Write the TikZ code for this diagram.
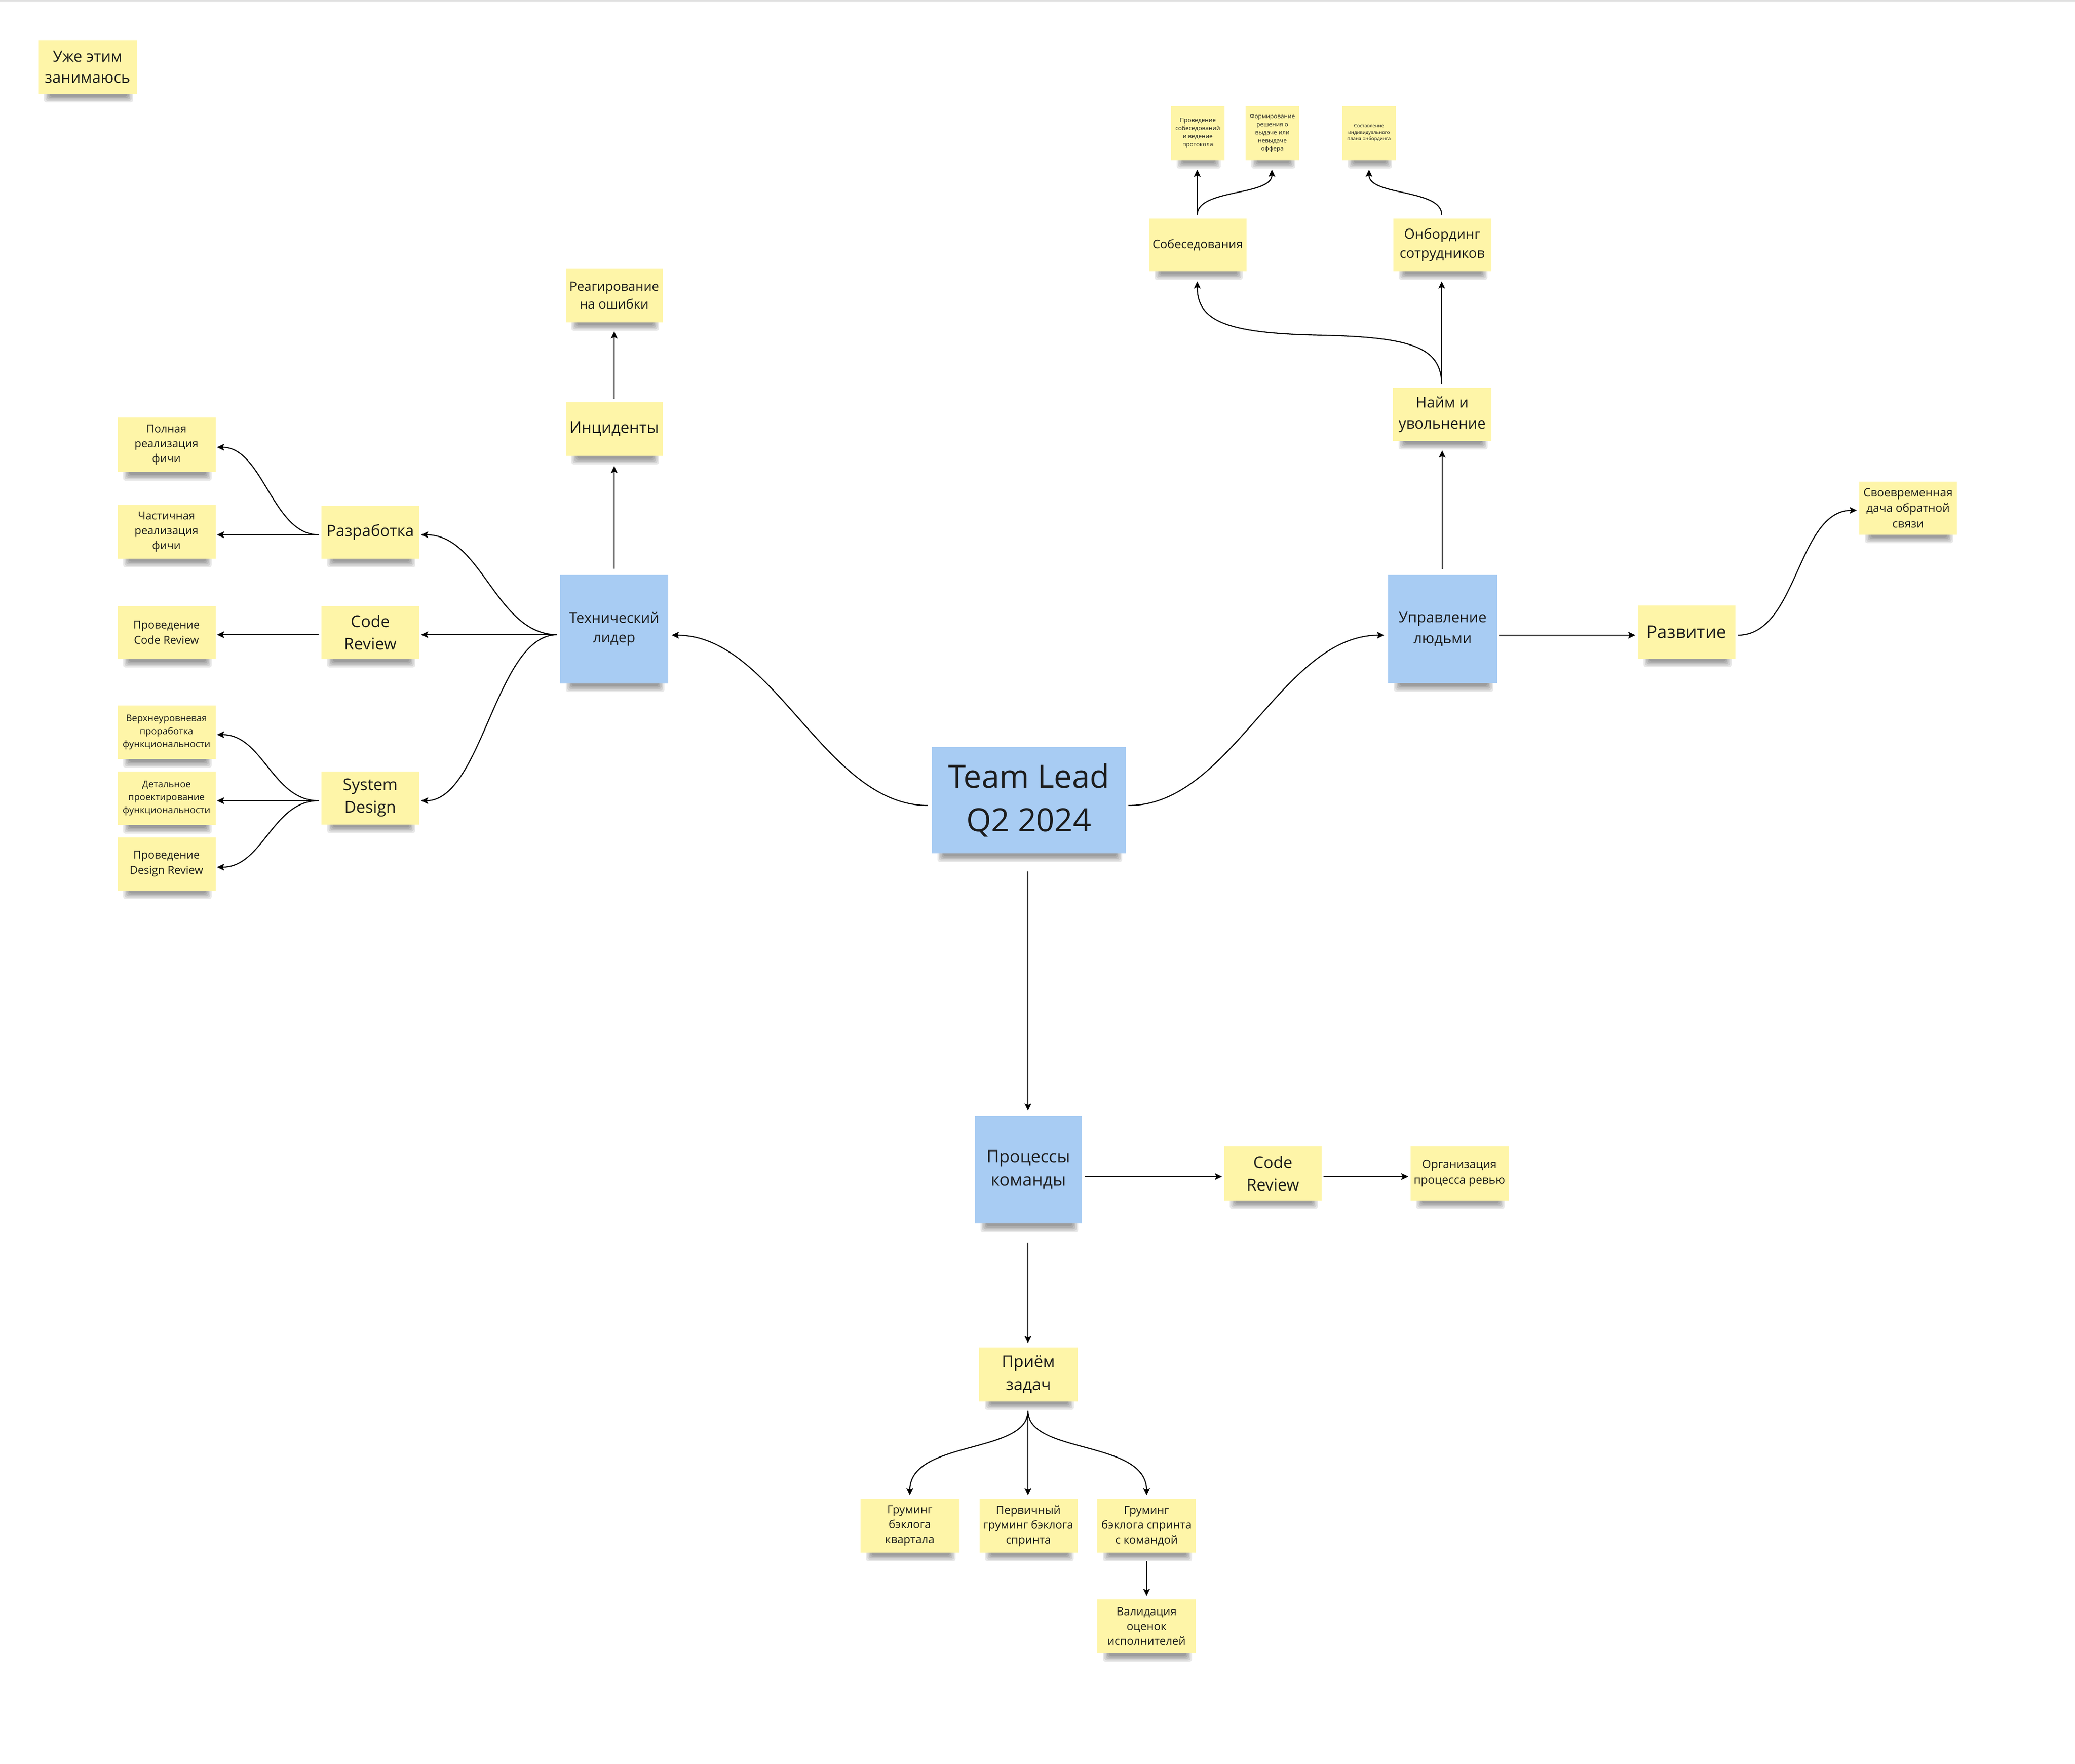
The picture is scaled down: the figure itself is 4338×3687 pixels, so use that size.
\documentclass[tikz,border=0pt]{standalone}
\usepackage{fontspec}
\setmainfont{Open Sans}
\usetikzlibrary{arrows.meta,calc}
\definecolor{ny}{HTML}{FEF5A8}
\definecolor{nb}{HTML}{A8CCF3}
\definecolor{tx}{HTML}{1C1C1C}
\pgfdeclarelayer{bg}
\pgfsetlayers{bg,main}
\newcommand\fsz[2]{\fontsize{#1}{#2}\selectfont}
\newcommand\nshadow[1]{%
  \foreach \i in {0,...,4}{%
    \fill[black,opacity=0.09,rounded corners=5pt]
      ($(#1.south west)+(12+3*\i,-4)$) rectangle ($(#1.south east)+(-8-3*\i,18-3*\i)$);}}
\begin{document}
\begin{tikzpicture}[x=1pt,y=-1pt,
  yel/.style={fill=ny, inner sep=0pt, align=center, text=tx},
  blu/.style={fill=nb, inner sep=0pt, align=center, text=tx},
  edge/.style={draw=black, line width=2.2pt, -{Stealth[length=15pt,width=14pt,inset=3pt]}}]
\useasboundingbox (0,0) rectangle (4338,3687);

% ---------- nodes ----------
\node[yel, minimum width=206, minimum height=112, font=\fsz{32.5}{44}] (Note) at (183,140) {Уже этим\\занимаюсь};

\node[blu, minimum width=406, minimum height=222, font=\fsz{67}{91}] (TL) at (2151,1673) {Team Lead\\Q2 2024};
\node[blu, minimum width=226, minimum height=227, font=\fsz{30}{41}] (TLd) at (1284,1315) {Технический\\лидер};
\node[blu, minimum width=228, minimum height=226, font=\fsz{31}{44}] (PM) at (3016,1315) {Управление\\людьми};
\node[blu, minimum width=224, minimum height=225, font=\fsz{36}{49}] (PR) at (2150,2445) {Процессы\\команды};

\node[yel, minimum width=203, minimum height=112, font=\fsz{33}{44}] (Inc) at (1284,897) {Инциденты};
\node[yel, minimum width=203, minimum height=113, font=\fsz{27}{37}] (React) at (1284,617) {Реагирование\\на ошибки};

\node[yel, minimum width=204, minimum height=110, font=\fsz{33}{44}] (Dev) at (774,1113) {Разработка};
\node[yel, minimum width=204, minimum height=111, font=\fsz{34}{47}] (CRl) at (774,1322) {Code\\Review};
\node[yel, minimum width=204, minimum height=111, font=\fsz{34}{47}] (SD) at (774,1668) {System\\Design};

\node[yel, minimum width=205, minimum height=114, font=\fsz{23}{31}] (Full) at (348,930) {Полная\\реализация\\фичи};
\node[yel, minimum width=205, minimum height=112, font=\fsz{23}{31}] (Part) at (348,1112) {Частичная\\реализация\\фичи};
\node[yel, minimum width=205, minimum height=111, font=\fsz{23}{32}] (PCR) at (348,1322) {Проведение\\Code Review};
\node[yel, minimum width=205, minimum height=112, font=\fsz{19.5}{27}] (HL) at (348,1531) {Верхнеуровневая\\проработка\\функциональности};
\node[yel, minimum width=205, minimum height=112, font=\fsz{19.5}{27}] (Det) at (348,1669) {Детальное\\проектирование\\функциональности};
\node[yel, minimum width=205, minimum height=111, font=\fsz{23}{32}] (PDR) at (348,1806) {Проведение\\Design Review};

\node[yel, minimum width=206, minimum height=111, font=\fsz{31}{44}] (Hire) at (3015,866) {Найм и\\увольнение};
\node[yel, minimum width=204, minimum height=110, font=\fsz{25}{34}] (Interv) at (2504,512) {Собеседования};
\node[yel, minimum width=205, minimum height=110, font=\fsz{29}{40}] (Onb) at (3015,512) {Онбординг\\сотрудников};
\node[yel, minimum width=112, minimum height=113, font=\fsz{12.5}{17}] (Int1) at (2504,278) {Проведение\\собеседований\\и ведение\\протокола};
\node[yel, minimum width=112, minimum height=113, font=\fsz{12.5}{17}] (Int2) at (2660,278) {Формирование\\решения о\\выдаче или\\невыдаче\\оффера};
\node[yel, minimum width=112, minimum height=113, font=\fsz{10}{13.5}] (Onb1) at (2862,278) {Составление\\индивидуального\\плана онбординга};

\node[yel, minimum width=204, minimum height=111, font=\fsz{37}{48}] (Dev2) at (3526,1321) {Развитие};
\node[yel, minimum width=204, minimum height=111, font=\fsz{24}{32.5}] (Feed) at (3989,1062) {Своевременная\\дача обратной\\связи};

\node[yel, minimum width=204, minimum height=113, font=\fsz{34}{47.5}] (CRr) at (2661,2453) {Code\\Review};
\node[yel, minimum width=205, minimum height=113, font=\fsz{24}{32.5}] (Org) at (3051,2453) {Организация\\процесса ревью};
\node[yel, minimum width=206, minimum height=113, font=\fsz{34}{47.5}] (Task) at (2150,2873) {Приём\\задач};
\node[yel, minimum width=207, minimum height=112, font=\fsz{23.5}{31}] (G1) at (1902,3190) {Груминг\\бэклога\\квартала};
\node[yel, minimum width=205, minimum height=112, font=\fsz{23.5}{31}] (G2) at (2150,3190) {Первичный\\груминг бэклога\\спринта};
\node[yel, minimum width=206, minimum height=112, font=\fsz{23.5}{31}] (G3) at (2397,3190) {Груминг\\бэклога спринта\\с командой};
\node[yel, minimum width=206, minimum height=112, font=\fsz{23.5}{31}] (Val) at (2397,3400) {Валидация\\оценок\\исполнителей};

% ---------- background, shadows ----------
\begin{pgfonlayer}{bg}
  \fill[white] (0,0) rectangle (4338,3687);
  \draw[black!12, line width=3pt] (0,1.5) -- (4338,1.5);
  \foreach \n in {Note,TL,TLd,PM,PR,Inc,React,Dev,CRl,SD,Full,Part,PCR,HL,Det,PDR,
                  Hire,Interv,Onb,Int1,Int2,Onb1,Dev2,Feed,CRr,Org,Task,G1,G2,G3,Val}{\nshadow{\n}}
\end{pgfonlayer}

% ---------- connectors ----------
% centre
\draw[edge] ($(TL.west)+(-8,11)$) .. controls +(-215,0) and +(215,0) .. ($(TLd.east)+(7,13)$);
\draw[edge] ($(TL.east)+(5,11)$) .. controls +(215,0) and +(-215,0) .. ($(PM.west)+(-8,13)$);
\draw[edge] ($(TL.south)+(-2,38)$) -- ($(PR.north)+(-1,-10)$);

% technical lead
\draw[edge] ($(TLd.north)+(0,-12)$) -- ($(Inc.south)+(0,21)$);
\draw[edge] ($(Inc.north)+(0,-7)$) -- ($(React.south)+(0,19)$);
\draw[edge] ($(TLd.west)+(-6,12)$) .. controls +(-128,0) and +(128,0) .. ($(Dev.east)+(4,5)$);
\draw[edge] ($(TLd.west)+(-6,12)$) -- ($(CRl.east)+(4,5)$);
\draw[edge] ($(TLd.west)+(-6,12)$) .. controls +(-128,0) and +(128,0) .. ($(SD.east)+(4,6)$);
\draw[edge] ($(Dev.west)+(-6,5)$) .. controls +(-96,0) and +(96,0) .. ($(Full.east)+(3,5)$);
\draw[edge] ($(Dev.west)+(-6,5)$) -- ($(Part.east)+(3,6)$);
\draw[edge] ($(CRl.west)+(-6,5)$) -- ($(PCR.east)+(3,5)$);
\draw[edge] ($(SD.west)+(-6,6)$) .. controls +(-96,0) and +(96,0) .. ($(HL.east)+(3,5)$);
\draw[edge] ($(SD.west)+(-6,6)$) -- ($(Det.east)+(3,5)$);
\draw[edge] ($(SD.west)+(-6,6)$) .. controls +(-96,0) and +(96,0) .. ($(PDR.east)+(3,7)$);

% people management
\draw[edge] ($(PM.north)+(-1,-12)$) -- ($(Hire.south)+(0,20)$);
\coordinate (hm) at ($(Hire.north)!0.5!(Interv.south)+(0,12)$);
\draw[edge] ($(Hire.north)+(-1,-8)$) .. controls +(-2,-77) and +(190,4) .. (hm)
            .. controls +(-200,-4) and +(0,82) .. ($(Interv.south)+(-1,21)$);
\draw[edge] ($(Hire.north)+(-1,-8)$) -- ($(Onb.south)+(-1,21)$);
\draw[edge] ($(Interv.north)+(-1,-8)$) -- ($(Int1.south)+(-1,20)$);
\draw[edge] ($(Interv.north)+(-1,-8)$) .. controls +(0,-54) and +(0,55) .. ($(Int2.south)+(-1,20)$);
\draw[edge] ($(Onb.north)+(-1,-8)$) .. controls +(0,-54) and +(0,55) .. ($(Onb1.south)+(0,20)$);
\draw[edge] ($(PM.east)+(4,13)$) -- ($(Dev2.west)+(-5,7)$);
\draw[edge] ($(Dev2.east)+(5,7)$) .. controls +(125,0) and +(-125,0) .. ($(Feed.west)+(-5,5)$);

% team processes
\draw[edge] ($(PR.east)+(6,15)$) -- ($(CRr.west)+(-4,7)$);
\draw[edge] ($(CRr.east)+(4,7)$) -- ($(Org.west)+(-4,7)$);
\draw[edge] ($(PR.south)+(-1,40)$) -- ($(Task.north)+(-1,-8)$);
\draw[edge] ($(Task.south)+(-1,20)$) .. controls +(0,91) and +(0,-117) .. ($(G1.north)+(0,-7)$);
\draw[edge] ($(Task.south)+(-1,20)$) -- ($(G2.north)+(-1,-7)$);
\draw[edge] ($(Task.south)+(-1,20)$) .. controls +(0,91) and +(0,-117) .. ($(G3.north)+(0,-7)$);
\draw[edge] ($(G3.south)+(0,18)$) -- ($(Val.north)+(0,-7)$);
\end{tikzpicture}
\end{document}
